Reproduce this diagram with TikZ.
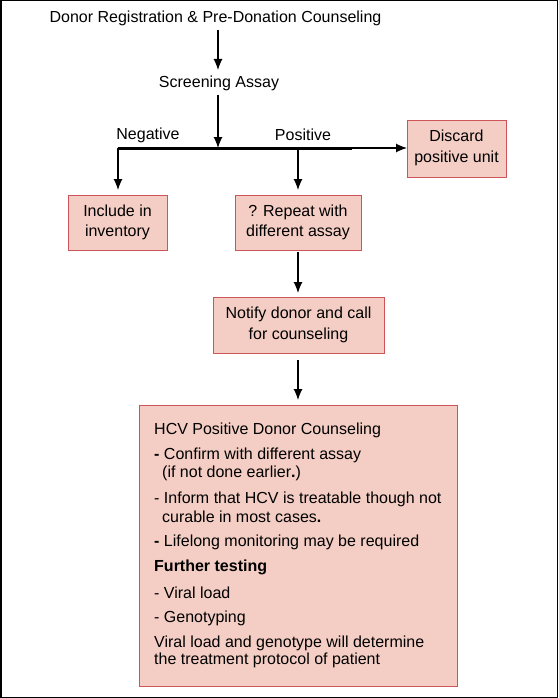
\documentclass[tikz,border=0pt]{standalone}
\usepackage{fontspec}
\setmainfont{Liberation Sans}
\usetikzlibrary{arrows.meta}
\definecolor{boxfill}{RGB}{244,206,196}
\definecolor{boxline}{RGB}{205,85,90}
\begin{document}
\begin{tikzpicture}[x=1pt,y=-1pt,
  every node/.style={font=\fontsize{16}{20.5}\selectfont, inner sep=0pt},
  pbox/.style={draw=boxline, fill=boxfill, line width=1pt},
  arr/.style={-{Latex[length=11pt,width=9pt]}, line width=1.2pt}]
\draw[line width=1.5pt] (0.75,0.75) rectangle (557.25,697.25);
\useasboundingbox (0,0) rectangle (558,698);
% top text
\node (reg) at (215.5,18) {Donor Registration \& Pre-Donation Counseling};
\node (scr) at (219,83) {Screening Assay};
\coordinate (jn) at (218,148);
\coordinate (nl) at (118,148);
\coordinate (pl) at (298,148);
\coordinate (tk) at (352,148);
\node (neg) at (148,135) {Negative};
\node (pos) at (303,135) {Positive};
% boxes
\draw[pbox] (407,121) rectangle (506,177);
\node[align=center] (dis) at (456.5,148) {Discard\\positive unit};
\coordinate (disw) at (407,148);
\draw[pbox] (68,195) rectangle (167,250);
\node[align=center] (inc) at (117.5,222.5) {Include in\\inventory};
\draw[pbox] (235,195) rectangle (361,250);
\node[align=center] (rep) at (298,222.5) {? Repeat with\\different assay};
\draw[pbox] (213,297) rectangle (384,353);
\node[align=center] (not) at (298.5,325) {Notify donor and call\\for counseling};
\draw[pbox] (139,405) rectangle (457,686);
% connectors
\draw[arr] (218,30) -- (218,70);
\draw[arr] (218,95) -- (jn);
\draw[line width=3pt] (nl) -- (tk);
\draw[arr] (tk) -- (disw);
\draw[arr] (nl) -- (118,190);
\draw[arr] (pl) -- (298,190);
\draw[arr] (298,252) -- (298,293);
\draw[arr] (298,360) -- (298,400);
% big box text
\begin{scope}[every node/.append style={anchor=west}]
\node (t1) at (154,430) {HCV Positive Donor Counseling};
\node (t2) at (154,455) {\textbf{-} Confirm with different assay};
\node (t3) at (162,473) {(if not done earlier\textbf{.})};
\node (t4) at (154,499) {- Inform that HCV is treatable though not};
\node (t5) at (162,517) {curable in most cases\textbf{.}};
\node (t6) at (154,542) {\textbf{-} Lifelong monitoring may be required};
\node (t7) at (154,567) {\textbf{Further testing}};
\node (t8) at (154,593) {- Viral load};
\node (t9) at (154,618) {- Genotyping};
\node (t10) at (154,643) {Viral load and genotype will determine};
\node (t11) at (154,660) {the treatment protocol of patient};
\end{scope}
\end{tikzpicture}
\end{document}
